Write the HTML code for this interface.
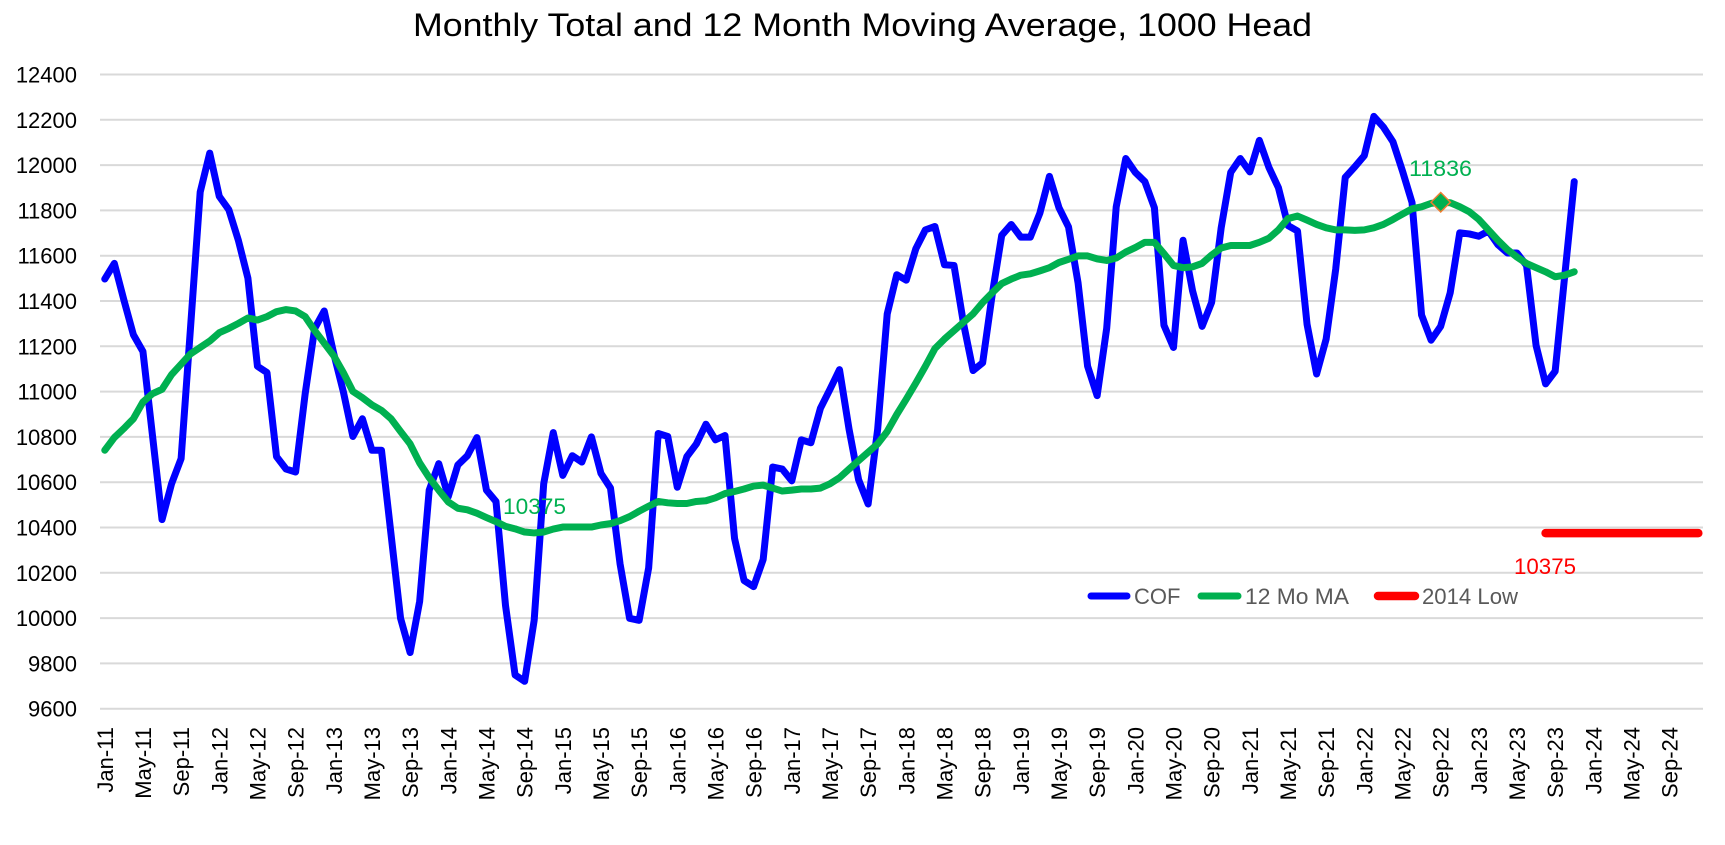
<!DOCTYPE html>
<html><head><meta charset="utf-8"><style>
html,body{margin:0;padding:0;background:#fff;}
svg{display:block;font-family:"Liberation Sans",sans-serif;}
</style></head><body>
<svg width="1725" height="845" viewBox="0 0 1725 845" xmlns="http://www.w3.org/2000/svg">
<rect width="1725" height="845" fill="#fff"/>
<text x="413" y="36" font-size="32" fill="#000" textLength="899" lengthAdjust="spacingAndGlyphs">Monthly Total and 12 Month Moving Average, 1000 Head</text>
<g stroke="#d9d9d9" stroke-width="2">
<line x1="100" x2="1703" y1="74.5" y2="74.5"/><line x1="100" x2="1703" y1="119.8" y2="119.8"/><line x1="100" x2="1703" y1="165.1" y2="165.1"/><line x1="100" x2="1703" y1="210.4" y2="210.4"/><line x1="100" x2="1703" y1="255.7" y2="255.7"/><line x1="100" x2="1703" y1="301" y2="301"/><line x1="100" x2="1703" y1="346.3" y2="346.3"/><line x1="100" x2="1703" y1="391.6" y2="391.6"/><line x1="100" x2="1703" y1="436.9" y2="436.9"/><line x1="100" x2="1703" y1="482.2" y2="482.2"/><line x1="100" x2="1703" y1="527.5" y2="527.5"/><line x1="100" x2="1703" y1="572.8" y2="572.8"/><line x1="100" x2="1703" y1="618.1" y2="618.1"/><line x1="100" x2="1703" y1="663.4" y2="663.4"/><line x1="100" x2="1703" y1="708.7" y2="708.7"/>
</g>
<g font-size="22" fill="#000" text-anchor="end">
<text x="77" y="82.5">12400</text><text x="77" y="127.8">12200</text><text x="77" y="173.1">12000</text><text x="77" y="218.4">11800</text><text x="77" y="263.7">11600</text><text x="77" y="309">11400</text><text x="77" y="354.3">11200</text><text x="77" y="399.6">11000</text><text x="77" y="444.9">10800</text><text x="77" y="490.2">10600</text><text x="77" y="535.5">10400</text><text x="77" y="580.8">10200</text><text x="77" y="626.1">10000</text><text x="77" y="671.4">9800</text><text x="77" y="716.7">9600</text>
</g>
<g font-size="22" fill="#000" text-anchor="end">
<text transform="translate(112.8,727) rotate(-90)">Jan-11</text>
<text transform="translate(150.9,727) rotate(-90)">May-11</text>
<text transform="translate(189.1,727) rotate(-90)">Sep-11</text>
<text transform="translate(227.3,727) rotate(-90)">Jan-12</text>
<text transform="translate(265.4,727) rotate(-90)">May-12</text>
<text transform="translate(303.6,727) rotate(-90)">Sep-12</text>
<text transform="translate(341.8,727) rotate(-90)">Jan-13</text>
<text transform="translate(380,727) rotate(-90)">May-13</text>
<text transform="translate(418.1,727) rotate(-90)">Sep-13</text>
<text transform="translate(456.3,727) rotate(-90)">Jan-14</text>
<text transform="translate(494.5,727) rotate(-90)">May-14</text>
<text transform="translate(532.6,727) rotate(-90)">Sep-14</text>
<text transform="translate(570.8,727) rotate(-90)">Jan-15</text>
<text transform="translate(609,727) rotate(-90)">May-15</text>
<text transform="translate(647.1,727) rotate(-90)">Sep-15</text>
<text transform="translate(685.3,727) rotate(-90)">Jan-16</text>
<text transform="translate(723.5,727) rotate(-90)">May-16</text>
<text transform="translate(761.6,727) rotate(-90)">Sep-16</text>
<text transform="translate(799.8,727) rotate(-90)">Jan-17</text>
<text transform="translate(838,727) rotate(-90)">May-17</text>
<text transform="translate(876.1,727) rotate(-90)">Sep-17</text>
<text transform="translate(914.3,727) rotate(-90)">Jan-18</text>
<text transform="translate(952.5,727) rotate(-90)">May-18</text>
<text transform="translate(990.6,727) rotate(-90)">Sep-18</text>
<text transform="translate(1028.8,727) rotate(-90)">Jan-19</text>
<text transform="translate(1067,727) rotate(-90)">May-19</text>
<text transform="translate(1105.1,727) rotate(-90)">Sep-19</text>
<text transform="translate(1143.3,727) rotate(-90)">Jan-20</text>
<text transform="translate(1181.5,727) rotate(-90)">May-20</text>
<text transform="translate(1219.6,727) rotate(-90)">Sep-20</text>
<text transform="translate(1257.8,727) rotate(-90)">Jan-21</text>
<text transform="translate(1296,727) rotate(-90)">May-21</text>
<text transform="translate(1334.1,727) rotate(-90)">Sep-21</text>
<text transform="translate(1372.3,727) rotate(-90)">Jan-22</text>
<text transform="translate(1410.5,727) rotate(-90)">May-22</text>
<text transform="translate(1448.7,727) rotate(-90)">Sep-22</text>
<text transform="translate(1486.8,727) rotate(-90)">Jan-23</text>
<text transform="translate(1525,727) rotate(-90)">May-23</text>
<text transform="translate(1563.2,727) rotate(-90)">Sep-23</text>
<text transform="translate(1601.3,727) rotate(-90)">Jan-24</text>
<text transform="translate(1639.5,727) rotate(-90)">May-24</text>
<text transform="translate(1677.7,727) rotate(-90)">Sep-24</text>
</g>
<g transform="matrix(9.542 0 0 -0.2265 104.77 2883.1)" fill="none" stroke-linejoin="round" stroke-linecap="round">
<polyline vector-effect="non-scaling-stroke" stroke="#ff0000" stroke-width="8.5" points="151,10375 167,10375"/>
<polyline vector-effect="non-scaling-stroke" stroke="#0000ff" stroke-width="7" points="0,11497 1,11566 2,11405 3,11251 4,11177 5,10806 6,10435 7,10593 8,10704 9,11290 10,11881 11,12053 12,11862 13,11803 14,11668 15,11501 16,11112 17,11084 18,10713 19,10658 20,10645 21,10990 22,11279 23,11356 24,11167 25,11000 26,10802 27,10880 28,10741 29,10741 30,10370 31,9999 32,9848 33,10074 34,10565 35,10682 36,10537 37,10676 38,10717 39,10797 40,10565 41,10515 42,10055 43,9749 44,9721 45,9990 46,10593 47,10819 48,10630 49,10717 50,10689 51,10800 52,10639 53,10574 54,10240 55,9999 56,9990 57,10222 58,10815 59,10802 60,10578 61,10713 62,10769 63,10856 64,10787 65,10806 66,10352 67,10166 68,10139 69,10259 70,10667 71,10658 72,10606 73,10787 74,10774 75,10926 76,11010 77,11097 78,10834 79,10611 80,10504 81,10834 82,11343 83,11516 84,11492 85,11631 86,11714 87,11729 88,11560 89,11557 90,11300 91,11093 92,11127 93,11427 94,11690 95,11738 96,11682 97,11682 98,11788 99,11950 100,11812 101,11727 102,11480 103,11112 104,10982 105,11279 106,11816 107,12029 108,11968 109,11927 110,11812 111,11293 112,11195 113,11668 114,11445 115,11288 116,11394 117,11723 118,11968 119,12029 120,11970 121,12109 122,11990 123,11900 124,11733 125,11709 126,11297 127,11078 128,11232 129,11540 130,11946 131,11992 132,12042 133,12215 134,12168 135,12103 136,11974 137,11835 138,11338 139,11227 140,11288 141,11436 142,11701 143,11696 144,11686 145,11709 146,11649 147,11612 148,11612 149,11557 150,11204 151,11034 152,11090 153,11510 154,11927"/>
<polyline vector-effect="non-scaling-stroke" stroke="#00b050" stroke-width="7" points="0,10741 1,10797 2,10837 3,10880 4,10954 5,10991 6,11010 7,11075 8,11121 9,11167 10,11195 11,11223 12,11260 13,11279 14,11301 15,11325 16,11316 17,11331 18,11353 19,11362 20,11356 21,11331 22,11269 23,11214 24,11158 25,11084 26,11001 27,10973 28,10941 29,10917 30,10880 31,10824 32,10769 33,10685 34,10620 35,10565 36,10513 37,10485 38,10478 39,10463 40,10444 41,10426 42,10405 43,10394 44,10380 45,10376 46,10380 47,10393 48,10402 49,10402 50,10402 51,10402 52,10411 53,10417 54,10430 55,10448 56,10472 57,10494 58,10515 59,10509 60,10506 61,10506 62,10515 63,10518 64,10531 65,10550 66,10559 67,10570 68,10583 69,10587 70,10574 71,10561 72,10565 73,10570 74,10570 75,10574 76,10593 77,10620 78,10658 79,10695 80,10732 81,10769 82,10824 83,10899 84,10967 85,11038 86,11112 87,11190 88,11232 89,11269 90,11306 91,11343 92,11393 93,11436 94,11477 95,11497 96,11514 97,11520 98,11533 99,11547 100,11570 101,11584 102,11599 103,11599 104,11586 105,11579 106,11590 107,11616 108,11636 109,11659 110,11659 111,11609 112,11557 113,11547 114,11551 115,11566 116,11603 117,11634 118,11645 119,11645 120,11645 121,11659 122,11677 123,11714 124,11764 125,11775 126,11757 127,11738 128,11723 129,11714 130,11714 131,11712 132,11714 133,11723 134,11738 135,11760 136,11784 137,11807 138,11816 139,11831 140,11836 141,11834 142,11816 143,11794 144,11760 145,11714 146,11668 147,11627 148,11594 149,11566 150,11547 151,11529 152,11507 153,11514 154,11529"/>
</g>
<polygon points="1440.7,192.5 1450.4,202.2 1440.7,211.9 1431,202.2" fill="#00b050" stroke="#ed7d31" stroke-width="1.5"/>
<g font-size="22">
<text x="503" y="514" fill="#00b050" textLength="63" lengthAdjust="spacingAndGlyphs">10375</text>
<text x="1409" y="176" fill="#00b050" textLength="63" lengthAdjust="spacingAndGlyphs">11836</text>
<text x="1514" y="574" fill="#ff0000" textLength="62" lengthAdjust="spacingAndGlyphs">10375</text>
</g>
<g stroke-linecap="round">
<line x1="1091" y1="596" x2="1127" y2="596" stroke="#0000ff" stroke-width="7"/>
<line x1="1201" y1="596" x2="1238" y2="596" stroke="#00b050" stroke-width="7"/>
<line x1="1378" y1="596" x2="1415" y2="596" stroke="#ff0000" stroke-width="8.5"/>
</g>
<g font-size="22" fill="#595959">
<text x="1134" y="604">COF</text>
<text x="1245" y="604" textLength="104" lengthAdjust="spacingAndGlyphs">12 Mo MA</text>
<text x="1422" y="604" textLength="96" lengthAdjust="spacingAndGlyphs">2014 Low</text>
</g>
</svg>
</body></html>
